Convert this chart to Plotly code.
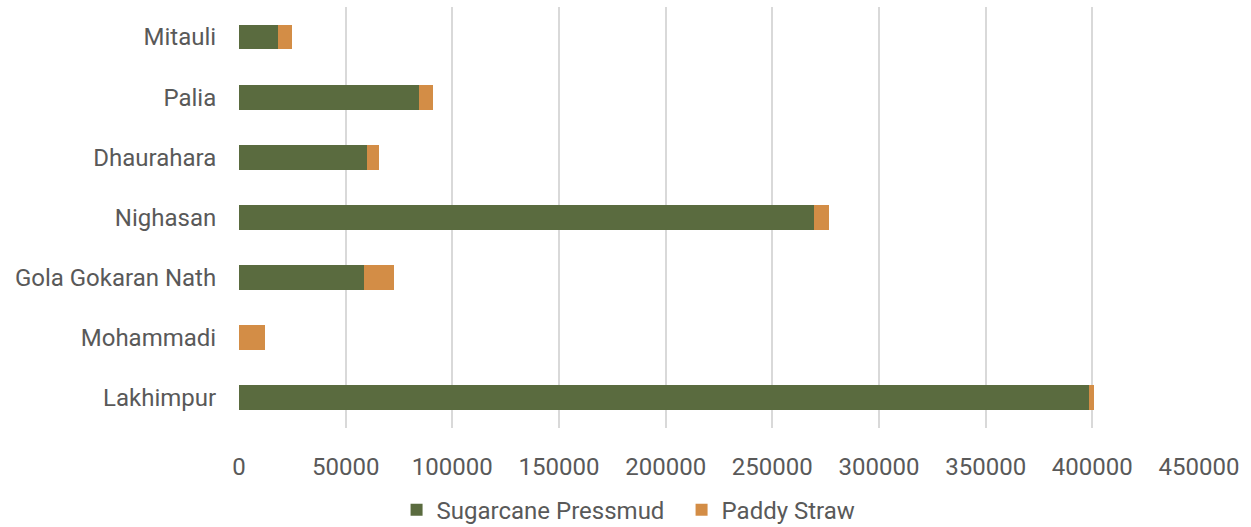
import plotly.graph_objects as go

blocks = ["Mitauli", "Palia", "Dhaurahara", "Nighasan", "Gola Gokaran Nath", "Mohammadi", "Lakhimpur"]
sugarcane_pressmud = [18100, 84400, 60000, 269600, 58500, 0, 398500]
paddy_straw = [6700, 6700, 5500, 6900, 14300, 12300, 2200]
x_ticks = [0, 50000, 100000, 150000, 200000, 250000, 300000, 350000, 400000, 450000]

GREEN = "#5A6B3F"
ORANGE = "#D38D46"
TEXT = "#595959"
FONT = "Roboto"
SIZE = 24

fig = go.Figure()
fig.add_trace(go.Bar(
    y=blocks, x=sugarcane_pressmud, orientation="h", name="Sugarcane Pressmud",
    marker=dict(color=GREEN, line=dict(width=0)), width=0.41,
))
fig.add_trace(go.Bar(
    y=blocks, x=paddy_straw, orientation="h", name="Paddy Straw",
    marker=dict(color=ORANGE, line=dict(width=0)), width=0.41,
))

fig.update_layout(
    barmode="stack",
    width=1251, height=527,
    margin=dict(l=239, r=52, t=7, b=97),
    paper_bgcolor="white", plot_bgcolor="white",
    font=dict(family=FONT, size=SIZE, color=TEXT),
    xaxis=dict(
        range=[0, 450000], tickvals=x_ticks, ticktext=[str(v) for v in x_ticks],
        showgrid=True, gridcolor="#D9D9D9", gridwidth=1.5, zeroline=False,
        showline=False, ticks="outside", ticklen=17, tickcolor="rgba(0,0,0,0)",
        tickfont=dict(family=FONT, size=SIZE, color=TEXT),
    ),
    yaxis=dict(
        autorange="reversed", showgrid=False, zeroline=False, showline=False,
        ticks="outside", ticklen=17, tickcolor="rgba(0,0,0,0)",
        tickfont=dict(family=FONT, size=SIZE, color=TEXT),
    ),
    legend=dict(
        orientation="h", traceorder="normal", xref="container", x=0.317, xanchor="left",
        yref="container", y=0.032, yanchor="middle",
        font=dict(family=FONT, size=SIZE, color=TEXT),
        itemwidth=30, tracegroupgap=0, entrywidth=240, entrywidthmode="pixels",
    ),
    bargap=0.59,
)

fig.write_html("out.html")
